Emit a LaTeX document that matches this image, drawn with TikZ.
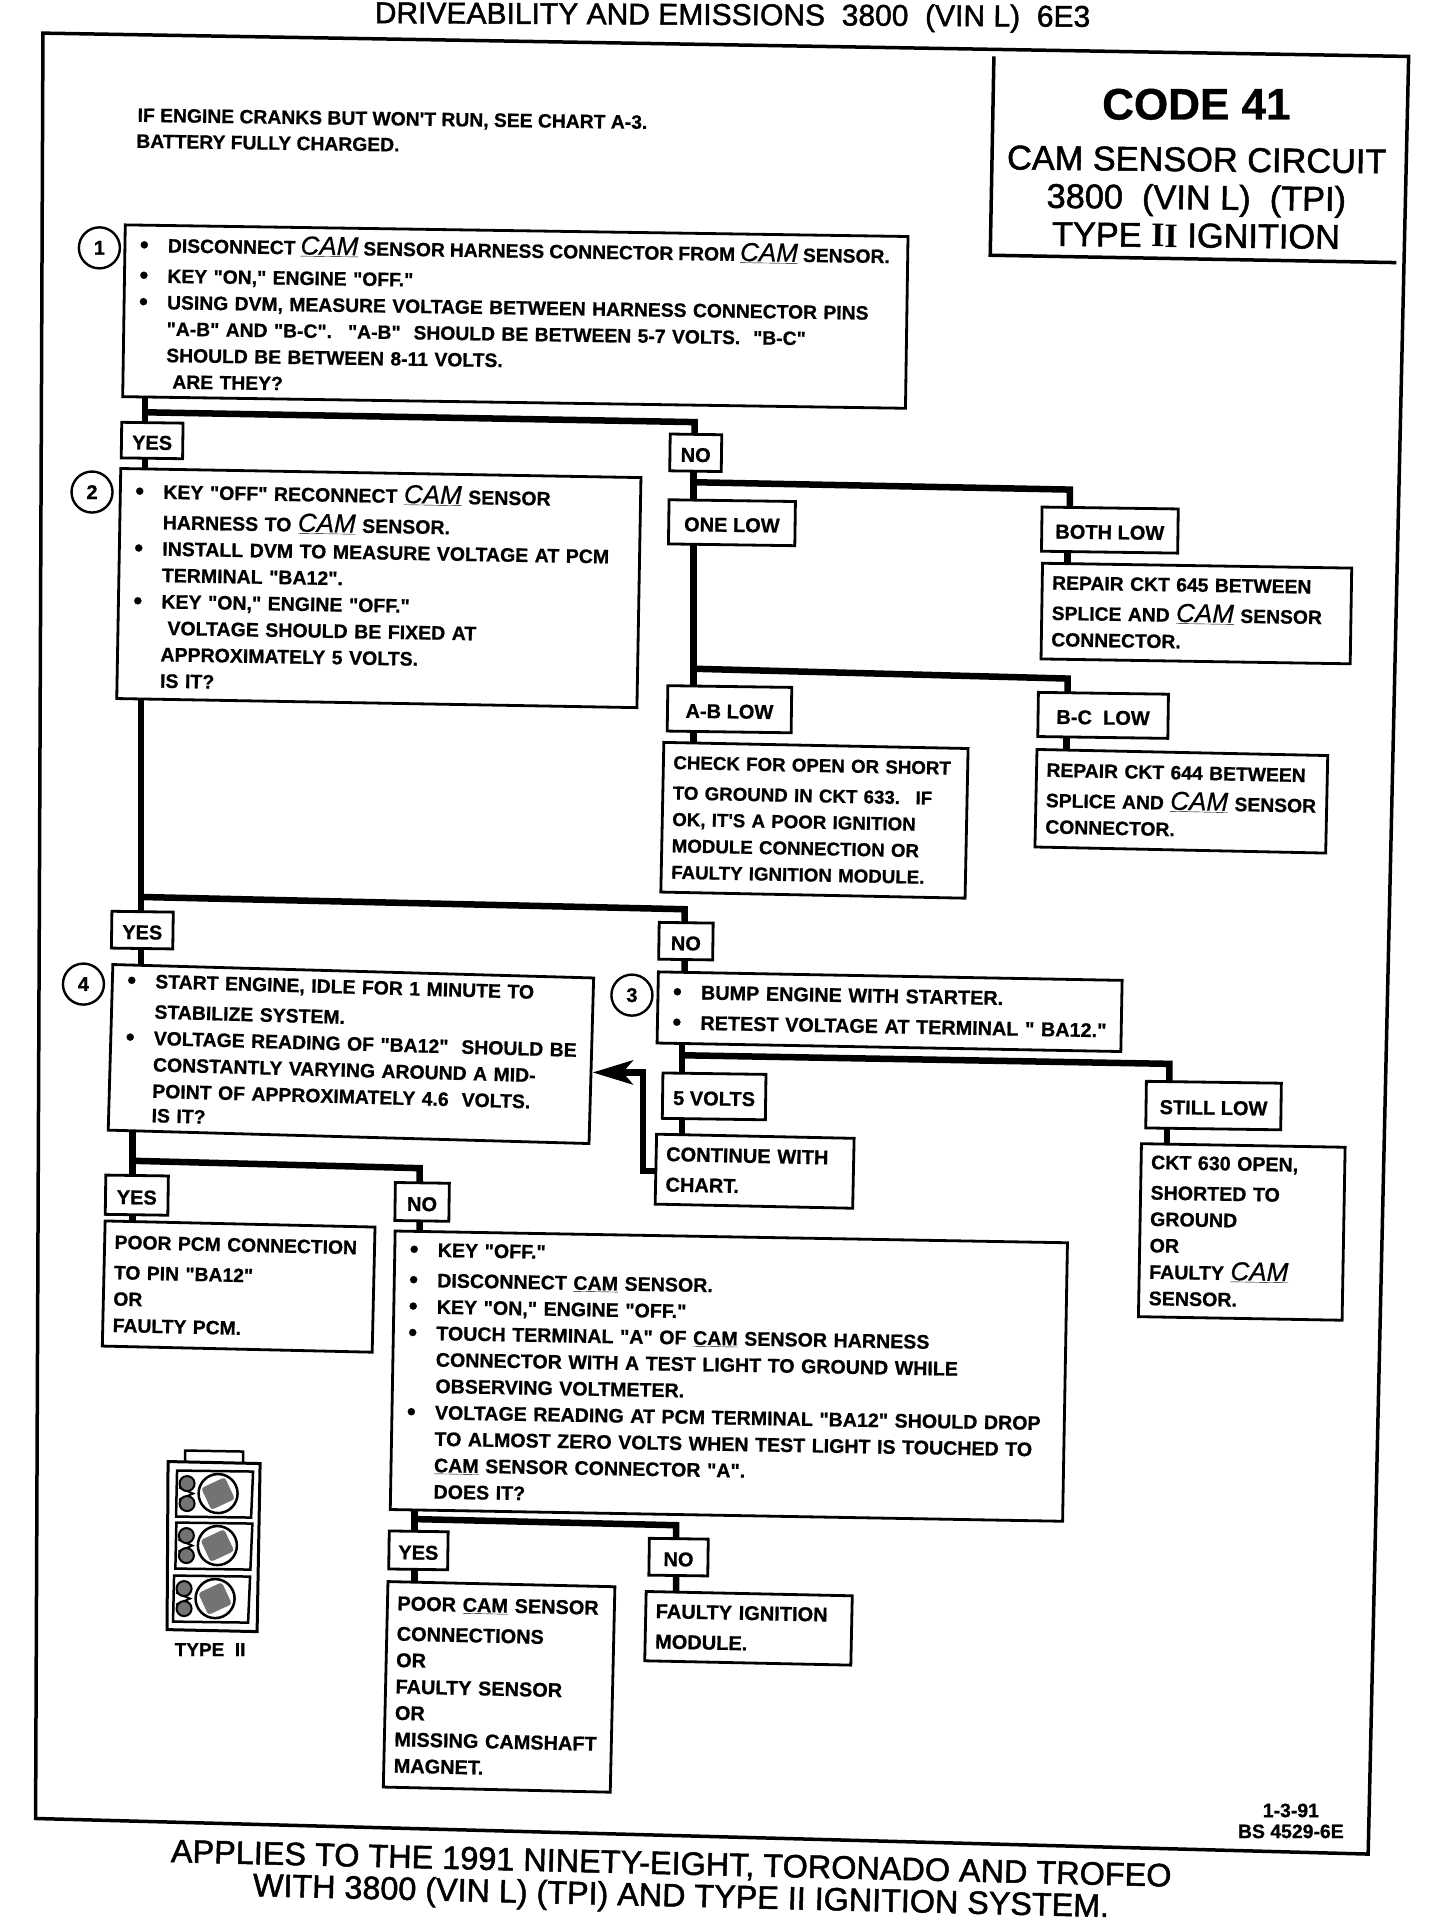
\documentclass[tikz,border=0pt]{standalone}
\usepackage{fontspec}
\setmainfont{Liberation Sans}[Ligatures=TeXOff,BoldFeatures={FakeBold=0.8}]
\newfontfamily\medf{Liberation Sans}[Ligatures=TeXOff,FakeBold=1.5]
\newfontfamily\camf{Liberation Sans}[Ligatures=TeXOff,ItalicFeatures={FakeBold=0.6}]
\newfontfamily\serf{Liberation Serif}[BoldFont={Liberation Serif Bold}]
\usetikzlibrary{arrows.meta,calc,backgrounds}
\newcommand{\fs}[1]{\fontsize{#1}{26.4}\selectfont\bfseries}
\newcommand{\bl}{\hspace*{5pt}\makebox[28pt][l]{{\fontsize{25}{25}\selectfont\raisebox{-1pt}{\textbullet}}}}
\newcommand{\ind}{\hspace*{33pt}}
\newcommand{\camI}{\underline{\fontsize{26}{24}\selectfont\camf\mdseries\itshape CAM}}
\newcommand{\camU}{\underline{CAM}}
\tikzset{
  bx/.style n args={3}{draw,line width=2.8pt,fill=white,rotate=#3,
    minimum width=#1*1.2266pt,minimum height=#2*1.2266pt,text width=#1*1.2266pt-20pt,
    inner xsep=10pt,inner ysep=0pt,align=left,font=\fs{19.3},
    execute at begin node={\vspace*{4pt}}},
  lab/.style n args={3}{draw,line width=2.8pt,fill=white,rotate=#3,
    minimum width=#1*1.2266pt,minimum height=#2*1.2266pt,inner sep=0pt,align=center,font=\fs{20},
    text height=18.3pt,text depth=0pt},
  num/.style={draw,circle,line width=2.4pt,minimum size=41pt,inner sep=0pt,font=\fs{20}},
  conn/.style={line width=6.5pt,line join=miter},
  rule/.style={line width=3.5pt,line join=miter},
  txt/.style={inner sep=0pt,anchor=west,font=\fs{19.3}},
  cell/.style={line width=2.5pt},
}
\begin{document}
\begin{tikzpicture}[x=1.2266pt,y=-1.2266pt]
\useasboundingbox (0,0) rectangle (1174,1568);
\begin{scope}[on background layer]
\fill[white] (0,0) rectangle (1174,1568);
\end{scope}
% frame and title
\coordinate (f1) at (35,27); \coordinate (f2) at (1148,46); \coordinate (f3) at (1115,1511); \coordinate (f4) at (29,1482);
\draw[rule] (f1) -- (f2) -- (f3) -- (f4) -- cycle;
\coordinate (k1) at (810,46); \coordinate (k2) at (807,208); \coordinate (k3) at (1138,214);
\draw[rule] (k1) -- (k2) -- (k3);
\node[inner sep=0pt,rotate=-0.3,font=\fontsize{30}{30}\selectfont\medf] (title) at (597,14) {DRIVEABILITY AND EMISSIONS\ \ 3800\ \ (VIN L)\ \ 6E3};
\node[inner sep=0pt,font=\fontsize{44}{44}\selectfont\bfseries] (code) at (975,85) {CODE 41};
\node[inner sep=0pt,rotate=-0.6,font=\fontsize{34.3}{38}\selectfont\medf,align=center] (codesub) at (975,161) {CAM SENSOR CIRCUIT\\3800\ \ (VIN L)\ \ (TPI)\\TYPE {\serf\bfseries II} IGNITION};
\node[txt,rotate=-0.8] (note1) at (112,95) {IF ENGINE CRANKS BUT WON'T RUN, SEE CHART A-3.};
\node[txt,rotate=-0.8] (note2) at (111,115) {BATTERY FULLY CHARGED.};
% step numbers
\node[num] (n1) at (81,202) {1};
\node[num] (n2) at (75,401) {2};
\node[num] (n3) at (515,811) {3};
\node[num] (n4) at (68,802) {4};
% boxes
\node[bx={638}{140}{-0.85}] (b1) at (420,258) {\bl{\spaceskip=5pt DISCONNECT \camI{} SENSOR HARNESS CONNECTOR FROM \camI{} SENSOR.}\\
\bl KEY "ON," ENGINE "OFF."\\
\bl USING DVM, MEASURE VOLTAGE BETWEEN HARNESS CONNECTOR PINS\\
\ind"A-B" AND "B-C". \ "A-B" \ SHOULD BE BETWEEN 5-7 VOLTS. \ "B-C"\\
\ind SHOULD BE BETWEEN 8-11 VOLTS.\\
\ind\ ARE THEY?};
\node[bx={424}{187.5}{-1},font=\fs{19.5}] (b2) at (308.75,479.25) {\bl KEY "OFF" RECONNECT \camI{} SENSOR\\
\ind HARNESS TO \camI{} SENSOR.\\
\bl INSTALL DVM TO MEASURE VOLTAGE AT PCM\\
\ind TERMINAL "BA12".\\
\bl KEY "ON," ENGINE "OFF."\\
\ind\ VOLTAGE SHOULD BE FIXED AT\\
\ind APPROXIMATELY 5 VOLTS.\\
\ind IS IT?};
\node[bx={252}{78}{-0.9}] (r645) at (975,500) {REPAIR CKT 645 BETWEEN\\SPLICE AND \camI{} SENSOR\\CONNECTOR.};
\node[bx={248}{122}{-1.15},font=\fs{18.7}] (chk) at (663.75,668.5) {CHECK FOR OPEN OR SHORT\\TO GROUND IN CKT 633. \ IF\\OK, IT'S A POOR IGNITION\\MODULE CONNECTION OR\\FAULTY IGNITION MODULE.};
\node[bx={237}{79.5}{-1.2}] (r644) at (962.75,653) {REPAIR CKT 644 BETWEEN\\SPLICE AND \camI{} SENSOR\\CONNECTOR.};
\node[bx={392}{135}{-1.6},font=\fs{19.4}] (b4) at (286,859) {\bl START ENGINE, IDLE FOR 1 MINUTE TO\\
\ind STABILIZE SYSTEM.\\
\bl VOLTAGE READING OF "BA12" \ SHOULD BE\\
\ind CONSTANTLY VARYING AROUND A MID-\\
\ind POINT OF APPROXIMATELY 4.6 \ VOLTS.\\[-2pt]
\ind IS IT?};
\node[bx={378}{58}{-1.05},font=\fs{19.8}] (b3) at (725,824.5) {\bl BUMP ENGINE WITH STARTER.\\\bl RETEST VOLTAGE AT TERMINAL " BA12."};
\node[bx={161}{57}{-1.2},font=\fs{20}] (cont) at (615,954.5) {CONTINUE WITH\\CHART.};
\node[bx={166}{141}{-1},font=\fs{19.6}] (ckt) at (1012,1004) {CKT 630 OPEN,\\SHORTED TO\\GROUND\\OR\\FAULTY \camI{}\\SENSOR.};
\node[bx={220}{102}{-1.3}] (pcm) at (194.5,1048.5) {POOR PCM CONNECTION\\TO PIN "BA12"\\OR\\FAULTY PCM.};
\node[bx={548}{227}{-1},font=\fs{19.6}] (big) at (594,1121.5) {\bl KEY "OFF."\\
\bl DISCONNECT \camU{} SENSOR.\\
\bl KEY "ON," ENGINE "OFF."\\
\bl TOUCH TERMINAL "A" OF \camU{} SENSOR HARNESS\\
\ind CONNECTOR WITH A TEST LIGHT TO GROUND WHILE\\
\ind OBSERVING VOLTMETER.\\
\bl VOLTAGE READING AT PCM TERMINAL "BA12" SHOULD DROP\\
\ind TO ALMOST ZERO VOLTS WHEN TEST LIGHT IS TOUCHED TO\\
\ind\camU{} SENSOR CONNECTOR "A".\\
\ind DOES IT?};
\node[bx={185}{167.5}{-1.3},font=\fs{19.9}] (poor) at (406.75,1374.75) {POOR \camU{} SENSOR\\CONNECTIONS\\OR\\FAULTY SENSOR\\OR\\MISSING CAMSHAFT\\MAGNET.};
\node[bx={168}{56.5}{-1.2},font=\fs{20}] (fault) at (610,1327) {FAULTY IGNITION\\MODULE.};
% labels
\node[lab={50}{29}{-0.8}] (yes1) at (124,359) {YES};
\node[lab={42}{30}{-0.8}] (no1) at (567,369) {NO};
\node[lab={103}{36}{-0.8}] (onelow) at (596.5,426) {ONE LOW};
\node[lab={111}{36}{-0.8}] (bothlow) at (904.5,432) {BOTH LOW};
\node[lab={101}{37}{-0.8}] (ablow) at (594.5,578) {A-B LOW};
\node[lab={106}{36}{-0.8}] (bclow) at (899,583) {B-C \ LOW};
\node[lab={50}{30}{-0.8}] (yes2) at (116,758) {YES};
\node[lab={44}{30}{-0.8}] (no2) at (559,767) {NO};
\node[lab={84}{37}{-0.8}] (fivev) at (582,893.5) {5 VOLTS};
\node[lab={110}{38}{-0.8}] (still) at (989,901) {STILL LOW};
\node[lab={51}{32}{-0.8}] (yes3) at (111.5,974) {YES};
\node[lab={44}{31}{-0.8}] (no3) at (344,979.5) {NO};
\node[lab={48}{31}{-0.8}] (yes4) at (341,1263.5) {YES};
\node[lab={48}{30}{-0.8}] (no4) at (553,1269) {NO};
% foot
\node[inner sep=0pt,font=\fs{19.4},align=center] (date) at (1052,1484) {1-3-91\\[-5.5pt]BS 4529-6E};
\node[inner sep=0pt,rotate=-1.4,font=\fontsize{32.4}{32.4}\selectfont\medf] (foot1) at (547,1520) {APPLIES TO THE 1991 NINETY-EIGHT, TORONADO AND TROFEO};
\node[inner sep=0pt,rotate=-1.4,font=\fontsize{32.3}{32.3}\selectfont\medf] (foot2) at (555,1547) {WITH 3800 (VIN L) (TPI) AND TYPE II IGNITION SYSTEM.};
% connector drawing
\begin{scope}[x=1pt,y=-1pt,shift={(60pt,-1440pt)}]
\draw[cell,line width=3pt] (108,21) -- (200,23) -- (197,191) -- (107,189) -- cycle;
\draw[cell] (125,21) -- (125,10) -- (183,11) -- (183,22);
\foreach \dy/\dx in {0/0,52/-0.7,105/-3}{
  \begin{scope}[shift={(\dx pt,-\dy pt)}]
  \draw[cell] (117,30) -- (193,31) -- (191,77) -- (116,76) -- cycle;
  \draw[line width=2pt] (119,47) -- (133,53) -- (119,59);
  \draw[line width=2pt,fill=black!55] (127,43) circle (7.5);
  \draw[line width=2pt,fill=black!55] (127,63) circle (7.5);
  \draw[line width=2.5pt,fill=white] (158,53) circle (19.5);
  \fill[black!55,rounded corners=3pt,rotate around={25:(158,53)}] (145,41) rectangle (171,65);
  \end{scope}
}
\node[inner sep=0pt,font=\fs{19}] (typeii) at (150,209) {TYPE \ II};
\end{scope}
% connectors
\begin{scope}[on background layer]
\coordinate (j1) at (118,336); \coordinate (j1r) at (566,344);
\draw[conn] (j1 |- b1) -- (j1 |- b2);
\draw[conn] (j1) -- (j1r) -- (j1r |- no1);
\coordinate (j2) at (565,393); \coordinate (j2r) at (872,399);
\draw[conn] (j2 |- no1) -- (j2 |- chk);
\draw[conn] (j2) -- (j2r) -- (j2r |- bothlow);
\coordinate (j3) at (565,545); \coordinate (j3r) at (870,553);
\draw[conn] (j3) -- (j3r) -- (j3r |- bclow);
\coordinate (j5) at (115,731); \coordinate (j5r) at (558,741);
\draw[conn] (j5 |- b2) -- (j5 |- b4);
\draw[conn] (j5) -- (j5r) -- (j5r |- b3);
\coordinate (j6) at (556,860); \coordinate (j6r) at (953,867);
\draw[conn] (j6 |- b3) -- (j6 |- cont);
\draw[conn] (j6) -- (j6r) -- (j6r |- still);
\coordinate (j7) at (108,946); \coordinate (j7r) at (342,952);
\draw[conn] (j7 |- b4) -- (j7 |- pcm);
\draw[conn] (j7) -- (j7r) -- (j7r |- big);
\coordinate (j8) at (338,1238); \coordinate (j8r) at (551,1243);
\draw[conn] (j8 |- big) -- (j8 |- poor);
\draw[conn] (j8) -- (j8r) -- (j8r |- fault);
\coordinate (c1) at (870,455); \draw[conn] (c1 |- bothlow) -- (c1 |- r645);
\coordinate (c2) at (869,605); \draw[conn] (c2 |- bclow) -- (c2 |- r644);
\coordinate (c4) at (951,925); \draw[conn] (c4 |- still) -- (c4 |- ckt);
\coordinate (a1) at (524,874);
\draw[conn,-{Stealth[length=40pt,width=24pt,inset=10pt]}] (cont.center) -- (a1 |- cont.center) -- (a1) -- (a1 -| b4.east);
\end{scope}
\end{tikzpicture}
\end{document}
